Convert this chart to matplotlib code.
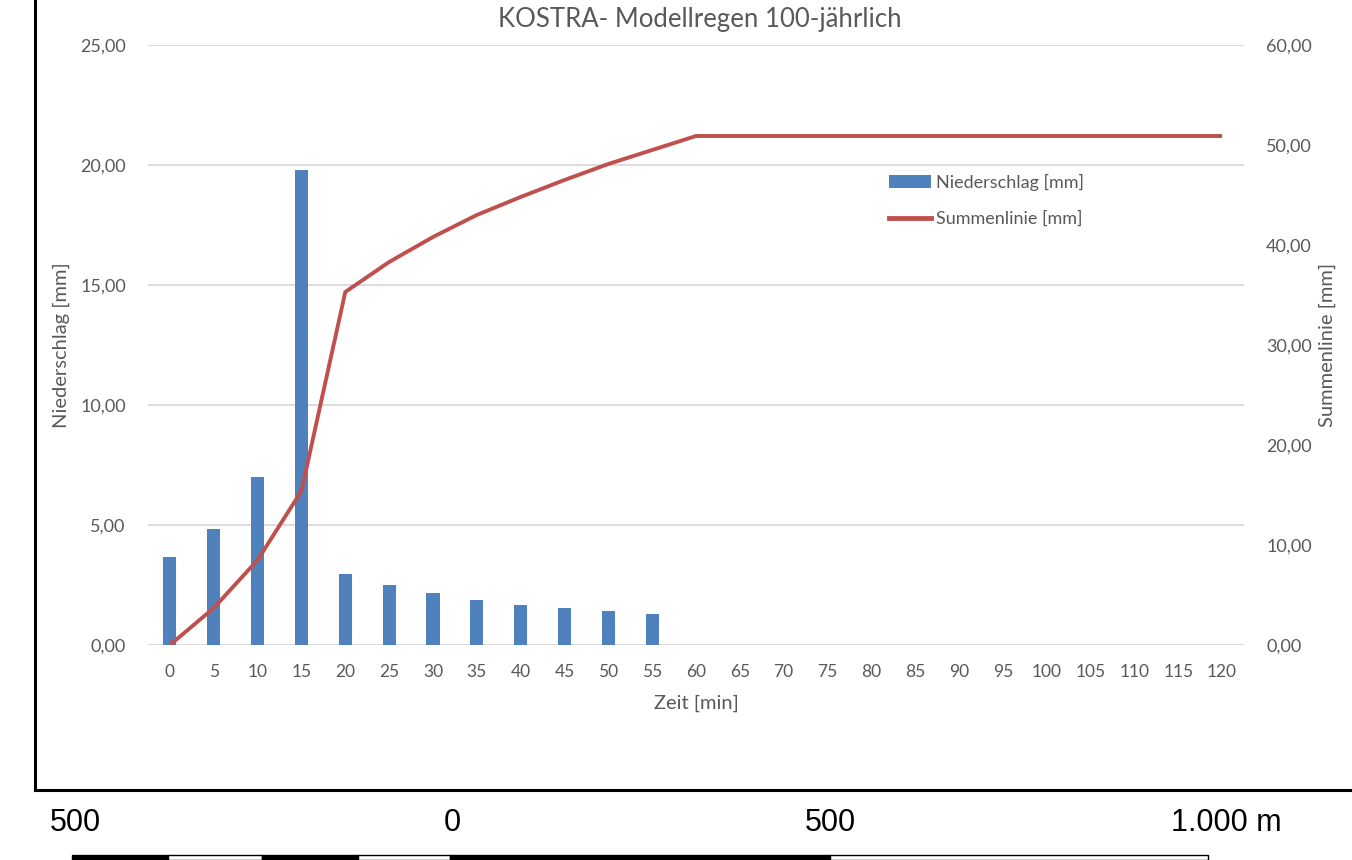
"""
KOSTRA Modellregen 100-jaehrlich: Niederschlag (Balken) + Summenlinie (rechte Achse),
darunter Rahmenkante und Massstabsleiste wie im Kartenausschnitt.
"""
import matplotlib
matplotlib.use("Agg")
import matplotlib.pyplot as plt
from matplotlib.lines import Line2D
from matplotlib.patches import Rectangle, Patch
from matplotlib.ticker import FuncFormatter
import numpy as np

# ---- data ----
ZEIT = [0, 5, 10, 15, 20, 25, 30, 35, 40, 45, 50, 55, 60,
        65, 70, 75, 80, 85, 90, 95, 100, 105, 110, 115, 120]
NIEDERSCHLAG = [3.68, 4.83, 6.99, 19.81, 2.96, 2.50, 2.15, 1.88, 1.67, 1.53, 1.42, 1.31, 0.0,
                0.0, 0.0, 0.0, 0.0, 0.0, 0.0, 0.0, 0.0, 0.0, 0.0, 0.0, 0.0]
SUMMENLINIE = [0.0, 3.7, 8.5, 15.4, 35.3, 38.3, 40.8, 43.0, 44.8, 46.5, 48.1, 49.5, 50.9,
               50.9, 50.9, 50.9, 50.9, 50.9, 50.9, 50.9, 50.9, 50.9, 50.9, 50.9, 50.9]
LEFT_TICKS = [0, 5, 10, 15, 20, 25]
RIGHT_TICKS = [0, 10, 20, 30, 40, 50, 60]
SCALE_LABELS = ["500", "0", "500", "1.000 m"]

TITLE = "KOSTRA- Modellregen 100-jährlich"
BLUE = "#4f81bd"
RED = "#c0504d"
GREY_TXT = "#595959"
GRID = "#d9d9d9"

W, H = 1352, 860
plt.rcParams["font.family"] = ["Lato", "DejaVu Sans"]


def comma(v, _pos=None):
    return f"{v:.2f}".replace(".", ",")


fig = plt.figure(figsize=(W / 100, H / 100), dpi=100)
fig.patch.set_facecolor("white")
ax = fig.add_axes([148 / W, 1 - 645 / H, (1244 - 148) / W, 600 / H])
ax2 = ax.twinx()

x = np.arange(len(ZEIT))
ax.bar(x, NIEDERSCHLAG, width=0.3, color=BLUE, zorder=3)
ax2.plot(x, SUMMENLINIE, color=RED, lw=2.8, solid_capstyle="butt", zorder=4)

ax.set_xlim(-0.5, len(ZEIT) - 0.5)
ax.set_ylim(0, 25)
ax2.set_ylim(0, 60)
ax.set_yticks(LEFT_TICKS)
ax2.set_yticks(RIGHT_TICKS)
ax.yaxis.set_major_formatter(FuncFormatter(comma))
ax2.yaxis.set_major_formatter(FuncFormatter(comma))
ax.set_xticks(x)
ax.set_xticklabels([str(z) for z in ZEIT])

ax.grid(axis="y", color=GRID, lw=1.3, zorder=0)
ax.set_axisbelow(True)
for a in (ax, ax2):
    for s in a.spines.values():
        s.set_visible(False)
    a.tick_params(length=0, labelsize=13, labelcolor=GREY_TXT)
ax.tick_params(axis="x", labelsize=12.5, pad=14)
ax.tick_params(axis="y", pad=16)
ax2.tick_params(axis="y", pad=16)

ax.set_ylabel("Niederschlag [mm]", fontsize=14.5, color=GREY_TXT, labelpad=7)
ax2.set_ylabel("Summenlinie [mm]", fontsize=14.5, color=GREY_TXT, labelpad=5)
ax.set_xlabel("Zeit [min]", fontsize=14.5, color=GREY_TXT, labelpad=10)
fig.text(700 / W, 1 - 20 / H, TITLE, ha="center", va="center", fontsize=18.5, color=GREY_TXT)

handles = [Patch(facecolor=BLUE, edgecolor="none"),
           Line2D([0], [0], color=RED, lw=3.5)]
fig.legend(handles, ["Niederschlag [mm]", "Summenlinie [mm]"],
           loc="upper left", bbox_to_anchor=(889 / W, 1 - 174 / H),
           frameon=False, fontsize=13, labelcolor=GREY_TXT,
           handlelength=2.3, handleheight=0.7, handletextpad=0.3,
           labelspacing=1.1, borderpad=0, borderaxespad=0)

# ---- Rahmen des Kartenausschnitts ----
fig.add_artist(Line2D([35 / W, 35 / W], [1 - 790 / H, 1.0], color="black", lw=2.2,
                      transform=fig.transFigure))
fig.add_artist(Line2D([35 / W, 1.0], [1 - 790 / H, 1 - 790 / H], color="black", lw=2.2,
                      transform=fig.transFigure, solid_capstyle="projecting"))

# ---- Massstabsleiste ----
label_x = [75, 452, 830, 1226]
for lx, lab in zip(label_x, SCALE_LABELS):
    fig.text(lx / W, 1 - 823 / H, lab, ha="center", va="center", fontsize=22,
             family="Liberation Sans", color="black")

seg_edges = [72, 168, 262, 358, 450, 830, 1208]
seg_colors = ["black", "white", "black", "white", "black", "white"]
for x0, x1, fc in zip(seg_edges[:-1], seg_edges[1:], seg_colors):
    fig.add_artist(Rectangle((x0 / W, 0), (x1 - x0) / W, (860 - 855) / H,
                             facecolor=fc, edgecolor="black", lw=1.0,
                             transform=fig.transFigure))

fig.savefig("out.png", dpi=100, facecolor="white")
